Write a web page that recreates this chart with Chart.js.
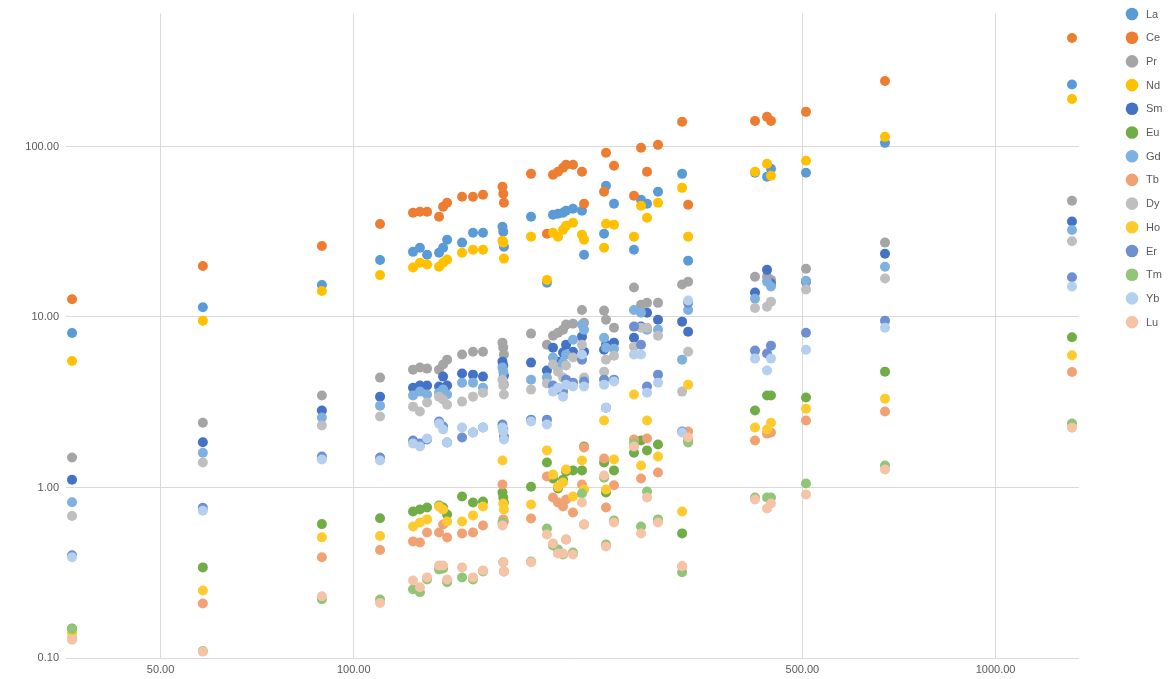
<!DOCTYPE html>
<html>
<head>
<meta charset="utf-8">
<title>REE scatter</title>
<script src="https://cdn.jsdelivr.net/npm/chart.js@4.4.1/dist/chart.umd.min.js"></script>
<style>
  html, body { margin: 0; padding: 0; background: #ffffff; }
  #wrap { width: 1171px; height: 679px; }
</style>
</head>
<body>
<div id="wrap"><canvas id="c" width="1171" height="679"></canvas></div>
<script>
// Sample abscissa (log axis)
const sampleX = [36.4, 58.2, 89.2, 109.9, 123.7, 126.8, 130.1, 135.8, 137.8, 139.8,
  147.5, 153.4, 159.0, 170.5, 171.0, 171.4, 188.9, 200.0, 204.4, 208.1,
  211.9, 214.2, 219.6, 226.8, 228.5, 245.5, 247.2, 254.4, 273.3, 280.3,
  286.4, 297.9, 324.8, 331.9, 421.9, 440.5, 446.8, 506.6, 672.6, 1315.5];

const elements = ['La', 'Ce', 'Pr', 'Nd', 'Sm', 'Eu', 'Gd', 'Tb', 'Dy', 'Ho', 'Er', 'Tm', 'Yb', 'Lu'];

const La = [8.06, 11.4, 15.4, 21.6, 24.1, 25.5, 23.2, 23.8, 25.5, 28.4,
  27.3, 31.2, 31.2, 33.8, 31.6, 25.8, 38.7, 15.9, 39.8, 40.3,
  40.9, 42.0, 43.1, 42.0, 23.2, 30.8, 58.8, 46.1, 24.8, 48.7,
  46.1, 54.2, 69.1, 21.4, 70.1, 66.4, 74.0, 70.1, 105, 231];
const Ce = [12.7, 19.9, 26.1, 35.1, 40.9, 41.4, 41.4, 38.7, 44.3, 46.8,
  50.7, 50.7, 52.1, 58.0, 52.8, 46.8, 69.1, 30.8, 68.2, 71.0,
  75.0, 78.1, 78.1, 71.0, 46.1, 54.2, 91.8, 77.0, 51.4, 98.2,
  71.0, 102.2, 139.5, 45.5, 141.3, 149.2, 141.3, 159.6, 242.4, 433];
const Pr = [1.50, 2.40, 3.46, 4.41, 4.91, 5.05, 4.98, 4.91, 5.26, 5.62,
  6.02, 6.26, 6.26, 7.07, 6.61, 6.02, 7.99, 6.88, 7.77, 8.09,
  8.43, 9.02, 9.14, 11.0, 9.26, 10.9, 9.64, 8.66, 14.9, 11.8,
  12.1, 12.1, 15.5, 16.1, 17.2, 17.2, 16.5, 19.2, 27.3, 48.0];
const Nd = [5.52, 9.5, 14.2, 17.6, 19.5, 20.8, 20.3, 19.7, 20.8, 21.7,
  23.8, 24.8, 24.8, 28.0, 27.3, 22.0, 29.6, 16.5, 31.2, 29.6,
  32.5, 34.3, 35.7, 30.4, 28.4, 25.5, 35.2, 34.8, 29.6, 44.9,
  38.2, 46.8, 57.2, 29.6, 71.0, 79.1, 67.3, 82.4, 113.9, 190];
const Sm = [1.11, 1.84, 2.83, 3.41, 3.85, 3.96, 3.96, 3.91, 4.47, 3.96,
  4.66, 4.59, 4.47, 5.47, 5.19, 4.53, 5.40, 4.85, 6.61, 5.47,
  6.18, 6.88, 6.26, 7.67, 6.26, 6.43, 6.88, 7.07, 7.56, 8.78,
  10.6, 9.64, 9.39, 8.20, 13.9, 18.9, 15.7, 16.1, 23.5, 36.3];
const Eu = [0.149, 0.34, 0.61, 0.66, 0.723, 0.743, 0.763, 0.784, 0.763, 0.695,
  0.886, 0.817, 0.828, 0.935, 0.874, 0.817, 1.01, 1.40, 1.13, 0.987,
  1.11, 1.24, 1.26, 1.26, 1.739, 1.40, 0.935, 1.26, 1.60, 1.886,
  1.65, 1.786, 0.538, 1.886, 2.83, 3.46, 3.46, 3.37, 4.78, 7.6];
const Gd = [0.82, 1.60, 2.57, 3.02, 3.46, 3.65, 3.51, 3.60, 3.75, 3.51,
  4.12, 4.12, 3.85, 5.05, 4.78, 4.01, 4.29, 4.41, 5.78, 5.05,
  5.40, 6.02, 7.36, 9.02, 8.43, 7.56, 6.61, 6.52, 11.0, 10.6,
  8.43, 8.43, 5.62, 11.0, 12.8, 16.1, 15.1, 16.3, 19.7, 32.4];
const Tb = [0.130, 0.209, 0.39, 0.43, 0.483, 0.476, 0.545, 0.545, 0.607, 0.509,
  0.538, 0.545, 0.599, 1.04, 0.65, 0.632, 0.658, 1.16, 0.874, 0.817,
  0.774, 0.851, 0.714, 1.04, 1.715, 1.48, 0.763, 1.03, 1.91, 1.13,
  1.937, 1.224, 0.345, 2.13, 1.886, 2.07, 2.10, 2.47, 2.79, 4.76];
const Dy = [0.68, 1.40, 2.31, 2.61, 2.98, 2.79, 3.15, 3.41, 3.28, 3.06,
  3.19, 3.41, 3.60, 4.29, 3.96, 3.51, 3.75, 4.07, 5.26, 4.78,
  4.41, 5.19, 5.78, 6.88, 4.41, 4.78, 5.62, 5.93, 6.70, 8.66,
  8.66, 7.77, 3.65, 6.26, 11.3, 11.5, 12.3, 14.5, 16.8, 27.8];
const Ho = [0.14, 0.249, 0.51, 0.52, 0.591, 0.624, 0.65, 0.774, 0.743, 0.632,
  0.632, 0.686, 0.774, 1.44, 0.806, 0.743, 0.795, 1.65, 1.19, 1.01,
  1.07, 1.275, 0.886, 1.44, 0.973, 2.47, 0.973, 1.46, 3.51, 1.346,
  2.47, 1.52, 0.723, 4.01, 2.25, 2.19, 2.40, 2.90, 3.32, 5.96];
const Er = [0.40, 0.76, 1.52, 1.50, 1.886, 1.81, 1.91, 2.44, 2.28, 1.835,
  1.963, 2.10, 2.25, 2.34, 2.19, 1.99, 2.50, 2.50, 3.96, 3.75,
  3.65, 4.29, 4.12, 5.62, 4.18, 4.29, 2.94, 4.29, 8.78, 6.88,
  3.91, 4.59, 2.13, 12.1, 6.35, 6.10, 6.79, 8.09, 9.52, 17.1];
const Tm = [0.148, 0.11, 0.221, 0.22, 0.253, 0.243, 0.289, 0.331, 0.335, 0.278,
  0.297, 0.289, 0.322, 0.624, 0.364, 0.322, 0.368, 0.575, 0.457, 0.433,
  0.405, 0.496, 0.416, 0.922, 0.607, 1.14, 0.463, 0.641, 1.81, 0.591,
  0.947, 0.65, 0.318, 1.835, 0.874, 0.874, 0.874, 1.055, 1.346, 2.37];
const Yb = [0.39, 0.73, 1.46, 1.44, 1.811, 1.739, 1.937, 2.37, 2.19, 1.835,
  2.25, 2.10, 2.25, 2.25, 2.13, 1.91, 2.44, 2.34, 3.65, 3.85,
  3.41, 4.01, 3.91, 6.02, 3.91, 4.01, 2.94, 4.18, 6.02, 6.02,
  3.60, 4.12, 2.10, 12.5, 5.70, 4.85, 5.70, 6.43, 8.66, 15.1];
const Lu = [0.128, 0.109, 0.23, 0.21, 0.285, 0.260, 0.297, 0.349, 0.349, 0.289,
  0.34, 0.297, 0.326, 0.599, 0.364, 0.322, 0.364, 0.53, 0.47, 0.41,
  0.41, 0.496, 0.405, 0.817, 0.607, 1.176, 0.451, 0.624, 1.739, 0.538,
  0.874, 0.624, 0.345, 1.963, 0.85, 0.753, 0.806, 0.91, 1.275, 2.24];

const xTicks = [50, 100, 500, 1000];
const yTicks = [0.1, 1, 10, 100];

const seriesValues = [La, Ce, Pr, Nd, Sm, Eu, Gd, Tb, Dy, Ho, Er, Tm, Yb, Lu];
const seriesColors = ['#5B9BD5', '#ED7D31', '#A5A5A5', '#FFC000', '#4472C4', '#70AD47',
  '#7EB0E0', '#F1A274', '#BFBFBF', '#FFCA2E', '#6E8FD0', '#91C578', '#B4D0EE', '#F5C3A5'];

Chart.defaults.font.family = "'Liberation Sans', Arial, sans-serif";
Chart.defaults.color = '#595959';

// Legend drawn down the right-hand margin, one row per element
const sideLegend = {
  id: 'sideLegend',
  afterDraw(chart) {
    const ctx = chart.ctx;
    ctx.save();
    ctx.font = "11px 'Liberation Sans', Arial, sans-serif";
    ctx.textBaseline = 'middle';
    ctx.textAlign = 'left';
    chart.data.datasets.forEach((ds, i) => {
      const cy = 14 + i * 23.7;
      ctx.beginPath();
      ctx.arc(1132, cy, 6.3, 0, Math.PI * 2);
      ctx.fillStyle = ds.backgroundColor;
      ctx.fill();
      ctx.fillStyle = '#595959';
      ctx.fillText(ds.label, 1146, cy + 0.5);
    });
    ctx.restore();
  }
};

const datasets = elements.map((name, i) => ({
  label: name,
  data: sampleX.map((x, j) => ({ x: x, y: seriesValues[i][j] })),
  backgroundColor: seriesColors[i],
  borderColor: seriesColors[i],
  borderWidth: 0,
  pointRadius: 5,
  pointHoverRadius: 5,
  order: elements.length - 1 - i
}));

new Chart(document.getElementById('c'), {
  type: 'scatter',
  data: { datasets },
  options: {
    responsive: false,
    animation: false,
    layout: { padding: { top: 13, right: 92, left: 0, bottom: 0 } },
    plugins: { legend: { display: false }, tooltip: { enabled: false } },
    scales: {
      x: {
        type: 'logarithmic',
        min: 35.62,
        max: 1349,
        afterBuildTicks: s => { s.ticks = xTicks.map(v => ({ value: v })); },
        afterFit: s => { s.height = 21; },
        grid: { color: '#d9d9d9', lineWidth: 1, drawTicks: false },
        border: { display: false },
        ticks: {
          autoSkip: false, maxRotation: 0, padding: 5,
          font: { size: 11 }, color: '#595959',
          callback: v => Number(v).toFixed(2)
        }
      },
      y: {
        type: 'logarithmic',
        min: 0.1,
        max: 601.6,
        afterBuildTicks: s => { s.ticks = yTicks.map(v => ({ value: v })); },
        afterFit: s => { s.width = 66; },
        grid: { color: '#d9d9d9', lineWidth: 1, drawTicks: false },
        border: { display: false },
        ticks: {
          autoSkip: false, padding: 7,
          font: { size: 11 }, color: '#595959',
          callback: v => Number(v).toFixed(2)
        }
      }
    }
  },
  plugins: [sideLegend]
});
</script>
</body>
</html>
